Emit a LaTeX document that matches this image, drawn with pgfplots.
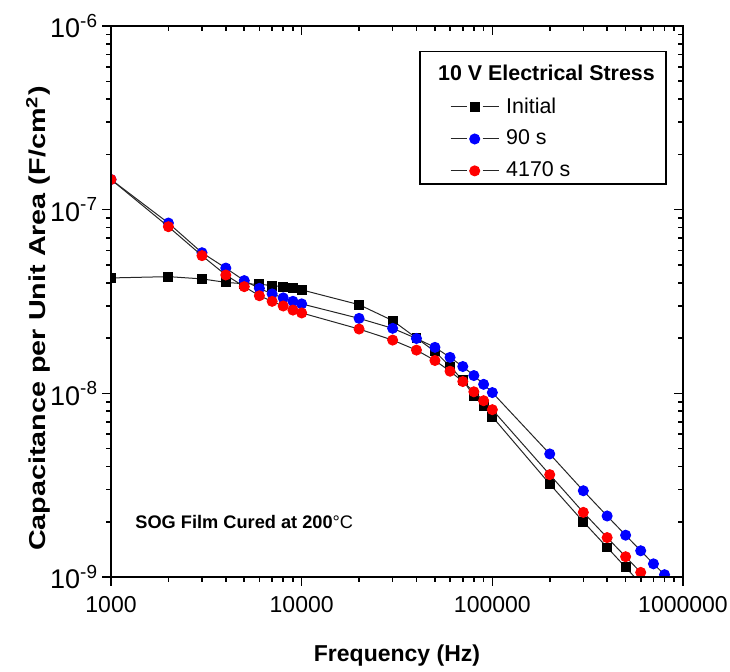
\documentclass[border=0pt]{standalone}
\usepackage{graphicx}
\usepackage{pgfplots}
\pgfplotsset{compat=1.18}
\usepackage{pgfplotstable}
\usepackage{fontspec}
\setmainfont{Liberation Sans}
\usetikzlibrary{calc}

\pgfplotstableread{
f C
1000 4.25e-8
2000 4.32e-8
3000 4.20e-8
4000 4.02e-8
5000 3.95e-8
6000 3.93e-8
7000 3.86e-8
8000 3.81e-8
9000 3.73e-8
10000 3.66e-8
20000 3.04e-8
30000 2.49e-8
40000 2.00e-8
50000 1.69e-8
60000 1.40e-8
70000 1.18e-8
80000 9.7e-9
90000 8.54e-9
100000 7.46e-9
200000 3.21e-9
300000 2.00e-9
400000 1.45e-9
500000 1.13e-9
600000 9.2e-10
}\initial

\pgfplotstableread{
f C
1000 1.46e-7
2000 8.46e-8
3000 5.83e-8
4000 4.81e-8
5000 4.11e-8
6000 3.73e-8
7000 3.48e-8
8000 3.31e-8
9000 3.17e-8
10000 3.07e-8
20000 2.56e-8
30000 2.26e-8
40000 1.99e-8
50000 1.78e-8
60000 1.57e-8
70000 1.40e-8
80000 1.25e-8
90000 1.12e-8
100000 1.01e-8
200000 4.68e-9
300000 2.95e-9
400000 2.15e-9
500000 1.69e-9
600000 1.39e-9
700000 1.18e-9
800000 1.03e-9
}\ninety

\pgfplotstableread{
f C
1000 1.46e-7
2000 8.08e-8
3000 5.62e-8
4000 4.41e-8
5000 3.81e-8
6000 3.40e-8
7000 3.17e-8
8000 2.99e-8
9000 2.84e-8
10000 2.74e-8
20000 2.24e-8
30000 1.95e-8
40000 1.72e-8
50000 1.51e-8
60000 1.32e-8
70000 1.16e-8
80000 1.02e-8
90000 9.12e-9
100000 8.15e-9
200000 3.61e-9
300000 2.25e-9
400000 1.64e-9
500000 1.29e-9
600000 1.06e-9
700000 8.8e-10
}\stressed

% legend sample: short line, gap, mark, gap, short line
\pgfplotsset{
  legline/.style={
    legend image code/.code={
      \draw[##1, mark=none] (0bp,0bp) -- (8bp,0bp);
      \draw[##1, mark=none] (16bp,0bp) -- (24bp,0bp);
      \draw[##1, only marks] plot coordinates {(12bp,0bp)};
      \path (25.5bp,0bp);
    }
  },
}

\begin{document}
\begin{tikzpicture}
\begin{axis}[
  name=ax,
  scale only axis, width=286bp, height=275.5bp,
  xmode=log, ymode=log,
  xmin=1000, xmax=1000000, ymin=1e-9, ymax=1e-6,
  axis line style={line width=1bp},
  tick style={black, line width=0.8bp},
  major tick length=4.3bp, minor tick length=2.4bp,
  xtick={1000,10000,100000,1000000},
  ytick={1e-9,1e-8,1e-7,1e-6},
  minor xtick={2000,3000,4000,5000,6000,7000,8000,9000,
    20000,30000,40000,50000,60000,70000,80000,90000,
    200000,300000,400000,500000,600000,700000,800000,900000},
  minor ytick={2e-9,3e-9,4e-9,5e-9,6e-9,7e-9,8e-9,9e-9,
    2e-8,3e-8,4e-8,5e-8,6e-8,7e-8,8e-8,9e-8,
    2e-7,3e-7,4e-7,5e-7,6e-7,7e-7,8e-7,9e-7},
  tick align=outside,
  xtick pos=left, ytick pos=left,
  xticklabels={1000,10000,100000,1000000},
  yticklabels={10\textsuperscript{-9},10\textsuperscript{-8},10\textsuperscript{-7},10\textsuperscript{-6}},
  xticklabel style={font=\fontsize{11.5bp}{13bp}\selectfont, yshift=-2bp},
  yticklabel style={font=\fontsize{13.5bp}{15bp}\selectfont, inner xsep=2bp},
  xlabel={\textbf{Frequency (Hz)}},
  ylabel={\scalebox{1.25}[1]{\textbf{Capacitance per Unit Area (F/cm\textsuperscript{2})}}},
  xlabel style={at={(rel axis cs:0.5,-0.1416)}, anchor=center, font=\fontsize{11.5bp}{13bp}\selectfont},
  ylabel style={at={(rel axis cs:-0.127,0.469)}, anchor=center, font=\fontsize{11.5bp}{13bp}\selectfont},
  clip marker paths=true,
  legend cell align=left,
  legend style={at={(0.972,0.955)}, anchor=north east, draw=black, line width=0.8bp,
    font=\fontsize{10.7bp}{12bp}\selectfont, row sep=3bp, inner xsep=15bp, inner ysep=0bp},
]
\addlegendimage{empty legend}
\addlegendentry{\hspace{-34bp}\rule{0pt}{12.5bp}\makebox[97bp][l]{\textbf{10 V Electrical Stress}}}
\addplot[black!85, line width=0.5bp, mark=square*, mark size=2.2bp,
  mark options={draw=black, fill=black}, legline] table[x=f, y=C] {\initial};
\addlegendentry{Initial}
\addplot[black!85, line width=0.5bp, mark=*, mark size=2.5bp,
  mark options={draw=blue, fill=blue}, legline] table[x=f, y=C] {\ninety};
\addlegendentry{90 s}
\addplot[black!85, line width=0.5bp, mark=*, mark size=2.5bp,
  mark options={draw=red, fill=red}, legline] table[x=f, y=C] {\stressed};
\addlegendentry{4170 s}
\node[anchor=west, inner sep=0pt, font=\fontsize{9.1bp}{11bp}\selectfont] at (rel axis cs:0.042,0.1)
  {\textbf{SOG Film Cured at 200}°C};
\end{axis}
\begin{axis}[
  scale only axis, width=286bp, height=275.5bp,
  xmode=log, ymode=log,
  xmin=1000, xmax=1000000, ymin=1e-9, ymax=1e-6,
  axis line style={line width=1bp},
  tick style={black, line width=0.8bp},
  major tick length=4.3bp, minor tick length=2.4bp,
  xtick={1000,10000,100000,1000000},
  ytick={1e-9,1e-8,1e-7,1e-6},
  minor xtick={2000,3000,4000,5000,6000,7000,8000,9000,
    20000,30000,40000,50000,60000,70000,80000,90000,
    200000,300000,400000,500000,600000,700000,800000,900000},
  minor ytick={2e-9,3e-9,4e-9,5e-9,6e-9,7e-9,8e-9,9e-9,
    2e-8,3e-8,4e-8,5e-8,6e-8,7e-8,8e-8,9e-8,
    2e-7,3e-7,4e-7,5e-7,6e-7,7e-7,8e-7,9e-7},
  tick align=inside,
  xtick pos=right, ytick pos=right,
  xticklabels={}, yticklabels={},
]
\end{axis}
\pgfresetboundingbox
\path ($(ax.south west)+(-55.5bp,-47bp)$) rectangle ($(ax.north east)+(23.5bp,13bp)$);
\end{tikzpicture}
\end{document}
